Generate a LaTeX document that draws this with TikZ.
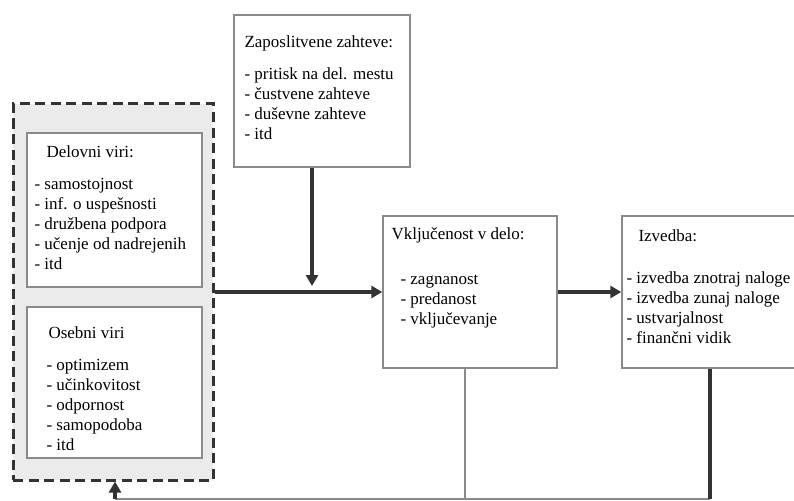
\documentclass[tikz,border=0pt]{standalone}
\usepackage{fontspec}
\setmainfont{Liberation Serif}
\usetikzlibrary{positioning}
\usetikzlibrary{arrows.meta}
\definecolor{boxgray}{HTML}{8A8A8A}
\definecolor{darkline}{HTML}{333333}
\definecolor{shade}{HTML}{EBEBEB}

\begin{document}
\begin{tikzpicture}[x=1pt,y=-1pt,
	box/.style={draw=boxgray, line width=1.4pt, fill=white, rectangle, inner sep=0pt},
	txt/.style={inner sep=0pt, align=left, font=\fontsize{17}{20}\selectfont},
	flow/.style={draw=darkline, line width=3.5pt, -{Triangle[length=11pt,width=12pt]}},
	thickline/.style={draw=darkline, line width=3.5pt},
	thinline/.style={draw=boxgray, line width=1.3pt}]
		\clip (0,0) rectangle (794,500);
		\fill[white] (0,0) rectangle (794,500);
		% resources group
		\node (viri) [draw=darkline, fill=shade, line width=3pt, dash pattern=on 10pt off 5.5pt, minimum width=200pt, minimum height=376pt, inner sep=0pt] at (113,292) {};
		\node (delovni) [box, minimum width=175pt, minimum height=154pt] at (114.5,210) {};
		\node (osebni) [box, minimum width=175pt, minimum height=151pt] at (114.5,382.5) {};
		\node (zahteve) [box, minimum width=176pt, minimum height=152pt] at (322,91) {};
		\node (vkljucenost) [box, minimum width=174pt, minimum height=152pt] at (470,292) {};
		\node (izvedba) [box, minimum width=178pt, minimum height=152pt] at (711,292) {};
		% texts
		\node (delovnit) [txt, below right=10.5pt and 20pt of delovni.north west] {\strut Delovni viri:};
		\node (delovnil) [txt, below right=43pt and 8pt of delovni.north west] {\strut - samostojnost\\- inf. o uspešnosti\\- družbena podpora\\- učenje od nadrejenih\\- itd};
		\node (osebnit) [txt, below right=17.5pt and 22pt of osebni.north west] {\strut Osebni viri};
		\node (osebnil) [txt, below right=50pt and 20pt of osebni.north west] {\strut - optimizem\\- učinkovitost\\- odpornost\\- samopodoba\\- itd};
		\node (zahtevet) [txt, below right=19.5pt and 11pt of zahteve.north west] {\strut Zaposlitvene zahteve:};
		\node (zahtevel) [txt, below right=51pt and 11pt of zahteve.north west] {\strut - pritisk na del. mestu\\- čustvene zahteve\\- duševne zahteve\\- itd};
		\node (vkljucenostt) [txt, below right=9.5pt and 9pt of vkljucenost.north west] {\strut Vključenost v delo:};
		\node (vkljucenostl) [txt, below right=55pt and 18pt of vkljucenost.north west] {\strut - zagnanost\\- predanost\\- vključevanje};
		\node (izvedbat) [txt, below right=11.5pt and 17pt of izvedba.north west] {\strut Izvedba:};
		\node (izvedbal) [txt, below right=54pt and 5pt of izvedba.north west] {\strut - izvedba znotraj naloge\\- izvedba zunaj naloge\\- ustvarjalnost\\- finančni vidik};
		% connectors
		\coordinate (zahtevek) at (312,286);
		\coordinate (vklj) at (465,368);
		\coordinate (vkljd) at (465,499);
		\coordinate (izvd) at (710,499);
		\coordinate (virid) at (115,499);
		\draw[flow] (viri.east) -- (vkljucenost.west);
		\draw[flow] (zahteve.south -| zahtevek) -- (zahtevek);
		\draw[flow] (vkljucenost.east) -- (izvedba.west);
		\draw[thinline] (vklj) -- (vkljd);
		\draw[thinline] (izvd) -- (virid);
		\draw[thickline] (izvedba.south -| izvd) -- (izvd);
		\draw[flow] (virid) -- (viri.south -| virid);
\end{tikzpicture}
\end{document}
